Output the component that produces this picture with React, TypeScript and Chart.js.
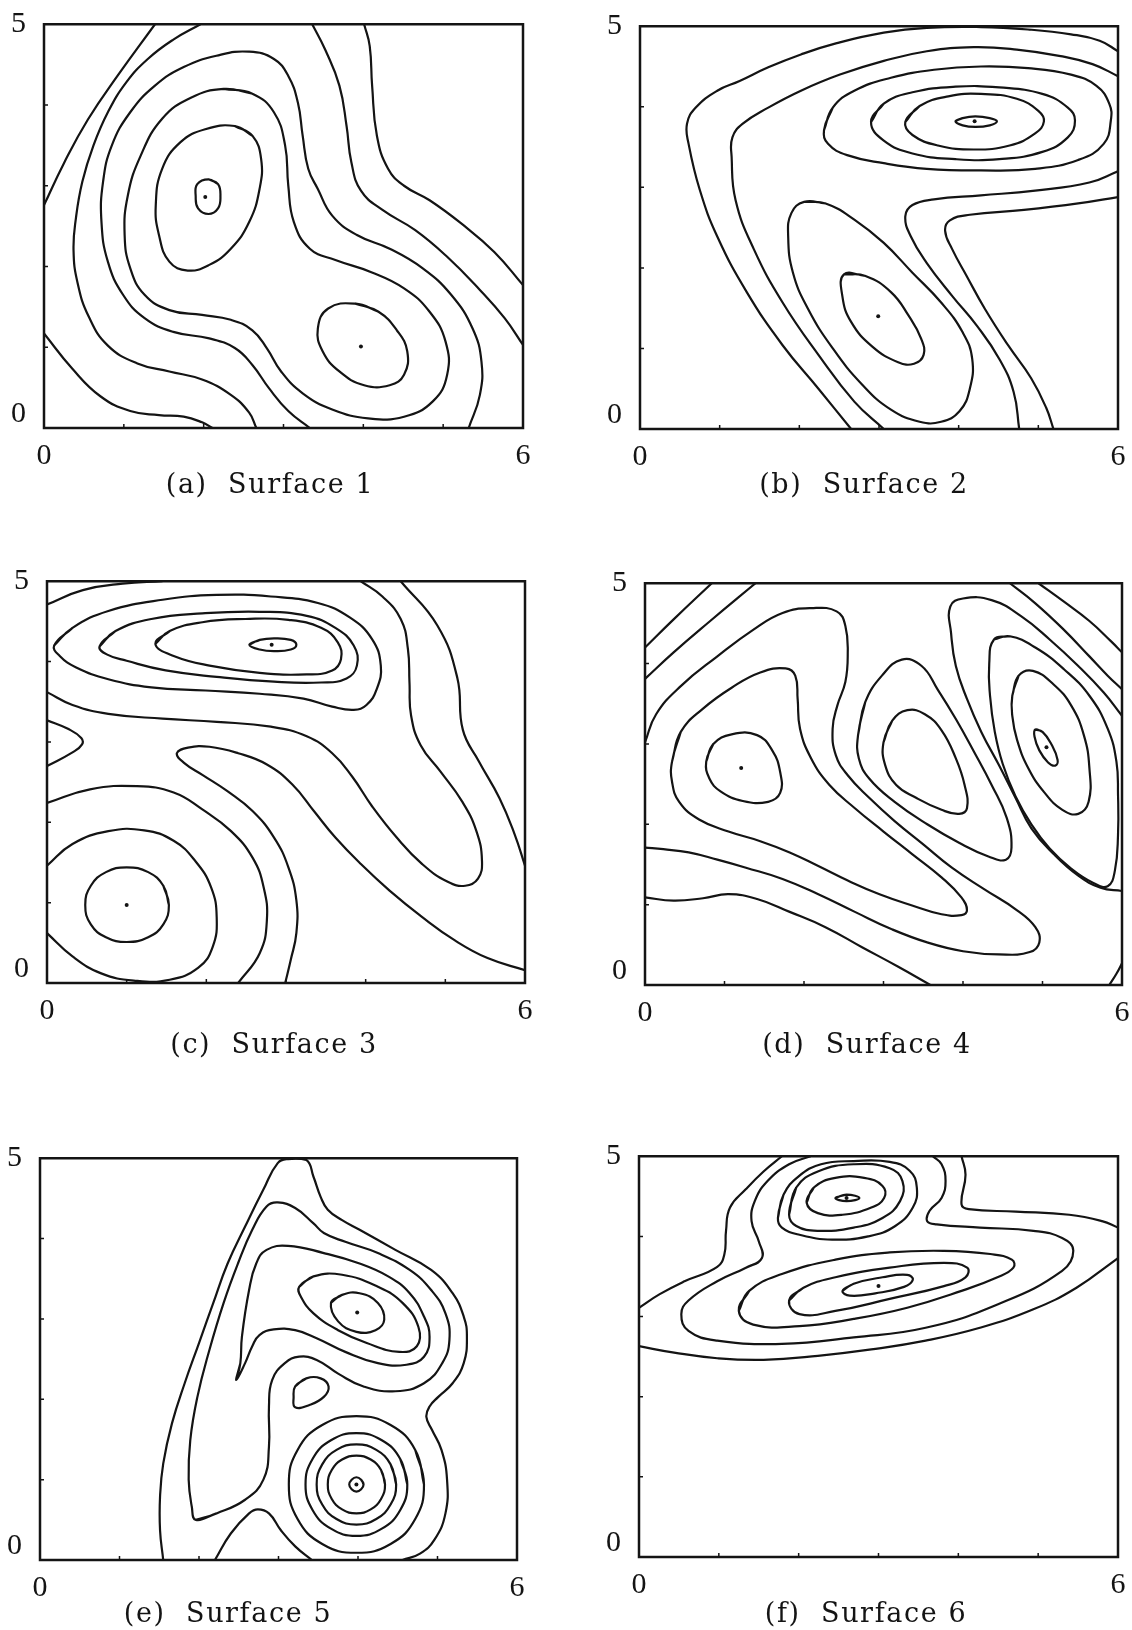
import { useEffect, useRef } from 'react';
import { Chart, registerables } from 'chart.js';

Chart.register(...registerables);

type Pt = [number, number];

const INK = '#141414';

// Axis ranges and tick values shared by all six surfaces
const xRange: Pt = [0, 6];
const yRange: Pt = [0, 5];
const xTickValues = [0, 1, 2, 3, 4, 5, 6];
const yTickValues = [0, 1, 2, 3, 4, 5];
const xLabelled = [0, 6];
const yLabelled = [0, 5];

// ---- Surface 1 ----
const surface1Open: Pt[][] = [
  [[0, 2.76], [0.25, 3.28], [0.55, 3.82], [0.92, 4.36], [1.39, 5.0]],
  [[0, 1.17], [0.35, 0.74], [0.71, 0.39], [1.08, 0.21], [1.44, 0.16], [1.75, 0.14], [1.98, 0.07], [2.11, 0]],
  [[4.01, 5.0], [4.08, 4.73], [4.11, 4.24], [4.17, 3.62], [4.31, 3.21], [4.51, 3.0], [4.83, 2.82], [5.23, 2.53], [5.64, 2.18], [6, 1.77]],
  [[1.96, 5], [1.62, 4.81], [1.3, 4.57], [1.03, 4.28], [0.8, 3.91], [0.62, 3.5], [0.48, 3.05], [0.4, 2.6], [0.37, 2.2], [0.42, 1.8], [0.56, 1.38], [0.8, 1.02], [1.17, 0.8], [1.57, 0.7], [1.98, 0.6], [2.34, 0.41], [2.57, 0.19], [2.66, 0]],
  [[3.36, 5], [3.52, 4.69], [3.7, 4.24], [3.79, 3.74], [3.85, 3.29], [3.97, 2.94], [4.24, 2.7], [4.65, 2.45], [5.05, 2.12], [5.46, 1.71], [5.77, 1.36], [6, 1.03]],
  [[3.33, 0], [3.06, 0.21], [2.82, 0.49], [2.61, 0.78], [2.39, 0.99], [2.07, 1.11], [1.62, 1.19], [1.26, 1.36], [0.99, 1.65], [0.8, 2.06], [0.72, 2.55], [0.74, 3.05], [0.85, 3.5], [1.08, 3.91], [1.39, 4.24], [1.75, 4.47], [2.16, 4.61], [2.57, 4.66], [2.88, 4.57], [3.06, 4.36], [3.18, 4.03], [3.24, 3.62], [3.31, 3.21], [3.43, 2.96], [3.61, 2.63], [3.92, 2.39], [4.33, 2.22], [4.74, 1.98], [5.1, 1.65], [5.37, 1.23], [5.48, 0.82], [5.46, 0.41], [5.32, 0]],
];
const surface1Closed: Pt[][] = [
  [[2.25, 4.2], [2.61, 4.14], [2.88, 3.91], [3.02, 3.5], [3.06, 3.0], [3.13, 2.55], [3.33, 2.22], [3.65, 2.08], [4.1, 1.93], [4.51, 1.73], [4.83, 1.44], [5.03, 1.07], [5.05, 0.66], [4.87, 0.33], [4.51, 0.14], [4.06, 0.12], [3.61, 0.23], [3.24, 0.43], [2.97, 0.7], [2.79, 0.99], [2.61, 1.21], [2.34, 1.34], [1.98, 1.4], [1.57, 1.46], [1.26, 1.65], [1.08, 1.98], [1.01, 2.39], [1.05, 2.88], [1.21, 3.37], [1.48, 3.83], [1.84, 4.09]],
  [[2.39, 3.74], [2.61, 3.62], [2.72, 3.33], [2.7, 2.96], [2.57, 2.55], [2.34, 2.22], [2.07, 2.02], [1.8, 1.95], [1.57, 2.06], [1.44, 2.39], [1.4, 2.76], [1.48, 3.21], [1.71, 3.54], [2.02, 3.7]],
  [[2.06, 3.08], [2.18, 3.02], [2.21, 2.87], [2.18, 2.72], [2.06, 2.65], [1.93, 2.72], [1.9, 2.87], [1.92, 3.02]],
  [[3.9, 1.54], [4.19, 1.44], [4.42, 1.21], [4.55, 0.95], [4.51, 0.66], [4.33, 0.53], [4.01, 0.53], [3.7, 0.7], [3.49, 0.95], [3.43, 1.23], [3.56, 1.48]],
];
const surface1Peaks: Pt[] = [[2.02, 2.86], [3.97, 1.01]];

// ---- Surface 2 ----
const surface2Open: Pt[][] = [
  [[2.65, 0], [2.24, 0.5], [1.79, 1.04], [1.34, 1.7], [0.97, 2.39], [0.75, 2.97], [0.61, 3.54], [0.59, 3.79], [0.7, 3.99], [0.97, 4.2], [1.25, 4.32], [1.61, 4.49], [2.02, 4.65], [2.47, 4.79], [3.06, 4.92], [3.6, 4.98], [4.28, 4.99], [4.87, 4.96], [5.41, 4.9], [5.77, 4.82], [6, 4.69]],
  [[3.06, 0], [2.69, 0.34], [2.24, 0.92], [1.79, 1.57], [1.43, 2.23], [1.2, 2.84], [1.15, 3.38], [1.16, 3.62], [1.29, 3.79], [1.61, 3.99], [2.02, 4.2], [2.51, 4.4], [3.06, 4.57], [3.6, 4.69], [4.19, 4.74], [4.73, 4.71], [5.28, 4.63], [5.68, 4.53], [6, 4.38]],
  [[6, 3.2], [5.64, 3.06], [4.96, 2.96], [4.28, 2.9], [3.69, 2.85], [3.42, 2.78], [3.33, 2.64], [3.4, 2.39], [3.6, 2.06], [3.92, 1.65], [4.23, 1.28], [4.51, 0.87], [4.69, 0.46], [4.76, 0]],
  [[6, 2.88], [5.5, 2.8], [4.82, 2.72], [4.14, 2.66], [3.89, 2.59], [3.83, 2.46], [3.92, 2.23], [4.1, 1.9], [4.33, 1.49], [4.62, 1.04], [4.91, 0.63], [5.1, 0.26], [5.19, 0]],
];
const surface2Closed: Pt[][] = [
  [[2.31, 3.71], [2.42, 3.99], [2.69, 4.2], [3.15, 4.36], [3.69, 4.46], [4.28, 4.5], [4.87, 4.48], [5.41, 4.4], [5.73, 4.26], [5.89, 4.04], [5.91, 3.83], [5.82, 3.54], [5.5, 3.34], [4.96, 3.23], [4.28, 3.21], [3.6, 3.23], [3.06, 3.3], [2.6, 3.4], [2.36, 3.54]],
  [[2.9, 3.81], [3.06, 4.04], [3.42, 4.18], [3.96, 4.25], [4.51, 4.24], [5.05, 4.16], [5.37, 3.99], [5.46, 3.83], [5.37, 3.62], [5.05, 3.44], [4.51, 3.35], [3.96, 3.35], [3.42, 3.42], [3.06, 3.58]],
  [[3.33, 3.81], [3.51, 4.01], [3.87, 4.13], [4.28, 4.16], [4.73, 4.1], [5.0, 3.95], [5.07, 3.82], [4.96, 3.67], [4.64, 3.52], [4.19, 3.47], [3.74, 3.52], [3.42, 3.65]],
  [[3.96, 3.82], [4.05, 3.86], [4.21, 3.88], [4.39, 3.86], [4.48, 3.82], [4.39, 3.77], [4.21, 3.75], [4.05, 3.77]],
  [[2.06, 2.82], [2.33, 2.8], [2.69, 2.6], [3.06, 2.31], [3.42, 1.94], [3.78, 1.57], [4.05, 1.2], [4.17, 0.87], [4.14, 0.5], [4.01, 0.22], [3.78, 0.09], [3.51, 0.09], [3.15, 0.24], [2.79, 0.55], [2.42, 1.0], [2.11, 1.49], [1.92, 1.94], [1.86, 2.39], [1.9, 2.68]],
  [[2.56, 1.92], [2.83, 1.9], [3.15, 1.7], [3.37, 1.41], [3.53, 1.12], [3.56, 0.92], [3.44, 0.81], [3.24, 0.83], [2.92, 1.02], [2.65, 1.33], [2.54, 1.65]],
];
const surface2Peaks: Pt[] = [[2.99, 1.4], [4.2, 3.82]];

// ---- Surface 3 ----
const surface3Open: Pt[][] = [
  [[0, 4.71], [0.45, 4.89], [0.95, 4.97], [1.45, 5.0]],
  [[0, 3.62], [0.32, 3.46], [0.77, 3.35], [1.45, 3.29], [2.13, 3.25], [2.81, 3.19], [3.26, 3.07], [3.58, 2.86], [3.83, 2.57], [4.08, 2.2], [4.39, 1.81], [4.71, 1.48], [5.03, 1.26], [5.25, 1.21], [5.41, 1.3], [5.46, 1.52], [5.39, 1.89], [5.21, 2.26], [4.94, 2.63], [4.69, 2.96], [4.57, 3.33], [4.55, 3.74], [4.53, 4.16], [4.44, 4.53], [4.21, 4.81], [3.94, 5.0]],
  [[4.44, 5.0], [4.9, 4.45], [5.15, 3.8], [5.22, 3.15], [5.42, 2.76], [5.68, 2.3], [5.87, 1.85], [6, 1.46]],
  [[0, 3.27], [0.27, 3.16], [0.43, 3.05], [0.44, 2.97], [0.32, 2.87], [0, 2.7]],
  [[6, 0.16], [5.53, 0.31], [5.12, 0.53], [4.71, 0.82], [4.3, 1.15], [3.94, 1.48], [3.62, 1.81], [3.35, 2.14], [3.08, 2.47], [2.76, 2.72], [2.4, 2.86], [2.04, 2.94], [1.77, 2.93], [1.63, 2.86], [1.72, 2.74], [1.95, 2.59], [2.26, 2.39], [2.58, 2.14], [2.85, 1.81], [3.03, 1.44], [3.13, 1.03], [3.13, 0.62], [3.06, 0.29], [2.99, 0]],
  [[0, 2.24], [0.54, 2.41], [1.13, 2.45], [1.59, 2.37], [1.95, 2.16], [2.31, 1.89], [2.58, 1.56], [2.72, 1.19], [2.76, 0.78], [2.67, 0.37], [2.4, 0]],
  [[0, 1.46], [0.32, 1.73], [0.77, 1.89], [1.22, 1.9], [1.59, 1.77], [1.86, 1.52], [2.06, 1.19], [2.13, 0.82], [2.08, 0.45], [1.9, 0.19], [1.54, 0.04], [1.09, 0.03], [0.68, 0.12], [0.32, 0.33], [0, 0.62]],
];
const surface3Closed: Pt[][] = [
  [[0.09, 4.2], [0.32, 4.42], [0.77, 4.63], [1.45, 4.77], [2.13, 4.83], [2.81, 4.81], [3.4, 4.73], [3.8, 4.55], [4.08, 4.28], [4.19, 3.95], [4.14, 3.66], [4.01, 3.46], [3.85, 3.4], [3.58, 3.44], [3.22, 3.54], [2.67, 3.6], [1.99, 3.64], [1.31, 3.68], [0.77, 3.78], [0.36, 3.93], [0.16, 4.07]],
  [[0.66, 4.19], [0.86, 4.38], [1.31, 4.53], [1.95, 4.6], [2.67, 4.62], [3.26, 4.57], [3.62, 4.42], [3.85, 4.2], [3.89, 3.95], [3.76, 3.79], [3.44, 3.74], [2.85, 3.75], [2.13, 3.81], [1.49, 3.89], [1.0, 4.01], [0.75, 4.09]],
  [[1.36, 4.22], [1.54, 4.38], [1.95, 4.49], [2.49, 4.53], [3.03, 4.52], [3.44, 4.42], [3.65, 4.24], [3.69, 4.03], [3.58, 3.89], [3.26, 3.84], [2.67, 3.86], [2.04, 3.95], [1.59, 4.07]],
  [[2.54, 4.21], [2.67, 4.27], [2.85, 4.29], [3.06, 4.27], [3.13, 4.21], [3.06, 4.15], [2.85, 4.13], [2.67, 4.15]],
  [[1.53, 0.97], [1.46, 1.21], [1.27, 1.38], [1.0, 1.44], [0.74, 1.38], [0.55, 1.21], [0.48, 0.97], [0.55, 0.73], [0.74, 0.57], [1.0, 0.51], [1.27, 0.57], [1.46, 0.73]],
];
const surface3Peaks: Pt[] = [[2.82, 4.21], [1.0, 0.97]];

// ---- Surface 4 ----
const surface4Open: Pt[][] = [
  [[0, 4.2], [0.36, 4.55], [0.84, 5.0]],
  [[0, 3.81], [0.36, 4.14], [0.82, 4.53], [1.39, 5.0]],
  [[0, 3.02], [0.14, 3.37], [0.45, 3.72], [0.91, 4.09], [1.36, 4.42], [1.73, 4.63], [2.09, 4.69], [2.41, 4.65], [2.52, 4.47], [2.55, 4.09], [2.52, 3.77], [2.42, 3.48], [2.36, 3.19], [2.4, 2.86], [2.55, 2.61], [2.82, 2.33], [3.14, 2.04], [3.5, 1.75], [3.86, 1.46], [4.27, 1.19], [4.68, 0.93], [4.91, 0.72], [4.96, 0.53], [4.84, 0.41], [4.45, 0.38], [4.0, 0.42], [3.55, 0.53], [3.09, 0.7], [2.64, 0.91], [2.18, 1.13], [1.73, 1.32], [1.27, 1.46], [0.91, 1.56], [0.55, 1.65], [0.23, 1.69], [0, 1.71]],
  [[0, 1.09], [0.36, 1.05], [0.73, 1.08], [1.05, 1.13], [1.41, 1.07], [1.82, 0.91], [2.27, 0.72], [2.73, 0.47], [3.18, 0.23], [3.59, 0]],
  [[5.84, 0], [5.93, 0.14], [6, 0.27]],
  [[4.59, 5.0], [4.91, 4.75], [5.27, 4.42], [5.59, 4.09], [5.82, 3.85], [6, 3.68]],
  [[4.95, 5.0], [5.27, 4.77], [5.59, 4.53], [5.86, 4.28], [6, 4.14]],
  [[6, 3.35], [5.77, 3.64], [5.45, 3.97], [5.09, 4.3], [4.73, 4.59], [4.36, 4.79], [4.0, 4.81], [3.84, 4.71], [3.85, 4.38], [3.91, 3.97], [4.05, 3.56], [4.23, 3.15], [4.45, 2.74], [4.66, 2.33], [4.86, 1.95], [5.14, 1.63], [5.45, 1.36], [5.73, 1.21], [6, 1.17]],
];
const surface4Closed: Pt[][] = [
  [[0.77, 2.78], [0.86, 3.0], [1.09, 3.12], [1.41, 3.11], [1.6, 2.92], [1.7, 2.65], [1.7, 2.39], [1.55, 2.28], [1.23, 2.29], [0.95, 2.41], [0.81, 2.57]],
  [[0.34, 2.78], [0.45, 3.15], [0.73, 3.44], [1.09, 3.7], [1.45, 3.89], [1.77, 3.94], [1.89, 3.85], [1.92, 3.56], [1.95, 3.19], [2.09, 2.82], [2.32, 2.49], [2.64, 2.2], [3.0, 1.91], [3.36, 1.63], [3.73, 1.34], [3.98, 1.09], [4.05, 0.93], [3.98, 0.87], [3.73, 0.88], [3.36, 0.99], [2.95, 1.13], [2.55, 1.3], [2.18, 1.48], [1.82, 1.65], [1.45, 1.79], [1.05, 1.91], [0.68, 2.06], [0.43, 2.28], [0.34, 2.53]],
  [[3.0, 3.02], [3.11, 3.29], [3.3, 3.42], [3.52, 3.37], [3.73, 3.17], [3.91, 2.82], [4.02, 2.49], [4.05, 2.2], [3.95, 2.13], [3.73, 2.18], [3.41, 2.33], [3.16, 2.49], [3.02, 2.74]],
  [[2.68, 3.11], [2.77, 3.52], [2.98, 3.85], [3.23, 4.05], [3.48, 3.97], [3.68, 3.68], [3.91, 3.31], [4.14, 2.9], [4.36, 2.49], [4.55, 2.08], [4.61, 1.71], [4.54, 1.56], [4.32, 1.6], [3.95, 1.77], [3.55, 2.0], [3.14, 2.28], [2.82, 2.57], [2.69, 2.82]],
  [[4.91, 3.18], [5.0, 3.15], [5.11, 3.0], [5.19, 2.8], [5.16, 2.73], [5.07, 2.77], [4.96, 2.92], [4.9, 3.09]],
  [[4.62, 3.6], [4.7, 3.85], [4.88, 3.91], [5.14, 3.74], [5.36, 3.48], [5.52, 3.11], [5.59, 2.7], [5.58, 2.28], [5.45, 2.13], [5.25, 2.18], [5.02, 2.4], [4.82, 2.7], [4.68, 3.05], [4.62, 3.35]],
  [[4.39, 4.3], [4.59, 4.34], [4.91, 4.2], [5.27, 3.93], [5.59, 3.6], [5.82, 3.19], [5.93, 2.78], [5.95, 2.37], [5.95, 1.87], [5.91, 1.42], [5.82, 1.23], [5.64, 1.27], [5.36, 1.45], [5.09, 1.7], [4.86, 2.0], [4.66, 2.35], [4.5, 2.75], [4.4, 3.15], [4.34, 3.6], [4.33, 4.0]],
];
const surface4Peaks: Pt[] = [[1.21, 2.7], [5.05, 2.96]];

// ---- Surface 5 ----
const surface5Open: Pt[][] = [
  [[1.55, 0], [1.51, 0.37], [1.51, 0.79], [1.55, 1.2], [1.66, 1.7], [1.82, 2.2], [2.0, 2.7], [2.18, 3.2], [2.36, 3.69], [2.58, 4.15], [2.81, 4.61], [2.99, 4.94], [3.12, 4.99], [3.35, 4.98], [3.44, 4.77], [3.53, 4.52], [3.62, 4.36], [3.8, 4.23], [4.02, 4.11], [4.47, 3.86], [4.92, 3.61], [5.19, 3.32], [5.33, 3.03], [5.37, 2.78], [5.33, 2.45], [5.19, 2.2], [5.01, 2.03], [4.9, 1.91], [4.86, 1.78], [4.93, 1.62], [5.05, 1.37], [5.12, 1.0], [5.1, 0.58], [4.96, 0.25], [4.78, 0.08], [4.56, 0]],
  [[2.2, 0], [2.4, 0.33], [2.63, 0.58], [2.74, 0.63], [2.88, 0.58], [3.03, 0.37], [3.21, 0.17], [3.42, 0]],
];
const surface5Closed: Pt[][] = [
  [[1.96, 0.5], [2.22, 0.58], [2.58, 0.75], [2.81, 1.0], [2.88, 1.41], [2.88, 1.91], [2.92, 2.24], [3.08, 2.45], [3.26, 2.53], [3.48, 2.49], [3.75, 2.32], [4.07, 2.16], [4.47, 2.1], [4.83, 2.2], [5.06, 2.45], [5.15, 2.74], [5.1, 3.07], [4.92, 3.36], [4.65, 3.61], [4.25, 3.82], [3.84, 3.96], [3.57, 4.07], [3.44, 4.19], [3.21, 4.38], [2.99, 4.45], [2.85, 4.4], [2.67, 4.11], [2.49, 3.69], [2.31, 3.2], [2.13, 2.61], [1.98, 2.03], [1.89, 1.49], [1.87, 1.0], [1.91, 0.66]],
  [[2.47, 2.24], [2.52, 2.45], [2.54, 2.78], [2.63, 3.36], [2.72, 3.69], [2.85, 3.86], [3.12, 3.91], [3.57, 3.82], [4.02, 3.69], [4.38, 3.53], [4.65, 3.32], [4.83, 3.03], [4.9, 2.78], [4.83, 2.53], [4.61, 2.43], [4.25, 2.45], [3.84, 2.59], [3.48, 2.76], [3.21, 2.86], [2.94, 2.87], [2.76, 2.8], [2.67, 2.66], [2.58, 2.45]],
  [[3.26, 3.4], [3.44, 3.53], [3.8, 3.55], [4.25, 3.4], [4.56, 3.2], [4.76, 2.9], [4.74, 2.66], [4.52, 2.59], [4.11, 2.7], [3.75, 2.86], [3.44, 3.07], [3.28, 3.28]],
  [[3.66, 3.2], [3.8, 3.3], [4.02, 3.32], [4.25, 3.2], [4.33, 2.99], [4.22, 2.86], [3.98, 2.84], [3.75, 2.97]],
  [[3.21, 2.16], [3.35, 2.26], [3.53, 2.26], [3.63, 2.16], [3.57, 2.03], [3.39, 1.93], [3.21, 1.9], [3.19, 2.03]],
  [[4.07, 0.94], [4.04, 1.0], [3.98, 1.03], [3.92, 1.0], [3.89, 0.94], [3.92, 0.88], [3.98, 0.85], [4.04, 0.88]],
  [[4.34, 0.94], [4.29, 1.12], [4.16, 1.25], [3.98, 1.3], [3.8, 1.25], [3.67, 1.12], [3.62, 0.94], [3.67, 0.76], [3.8, 0.63], [3.98, 0.58], [4.16, 0.63], [4.29, 0.76]],
  [[4.48, 0.94], [4.41, 1.19], [4.23, 1.37], [3.98, 1.44], [3.73, 1.37], [3.55, 1.19], [3.48, 0.94], [3.55, 0.69], [3.73, 0.51], [3.98, 0.44], [4.23, 0.51], [4.41, 0.69]],
  [[4.62, 0.94], [4.53, 1.26], [4.3, 1.49], [3.98, 1.58], [3.66, 1.49], [3.43, 1.26], [3.34, 0.94], [3.43, 0.62], [3.66, 0.39], [3.98, 0.3], [4.3, 0.39], [4.53, 0.62]],
  [[4.83, 0.94], [4.72, 1.37], [4.41, 1.68], [3.98, 1.79], [3.55, 1.68], [3.24, 1.37], [3.13, 0.94], [3.24, 0.51], [3.55, 0.2], [3.98, 0.09], [4.41, 0.2], [4.72, 0.51]],
];
const surface5Peaks: Pt[] = [[3.99, 3.08], [3.98, 0.94]];

// ---- Surface 6 ----
const surface6Open: Pt[][] = [
  [[0, 2.63], [0.44, 2.55], [0.98, 2.48], [1.56, 2.46], [2.24, 2.51], [2.91, 2.59], [3.59, 2.7], [4.27, 2.86], [4.94, 3.09], [5.48, 3.36], [6, 3.73]],
  [[0, 3.11], [0.26, 3.28], [0.57, 3.44], [0.98, 3.62], [1.07, 3.78], [1.09, 4.07], [1.14, 4.36], [1.34, 4.59], [1.56, 4.81], [1.79, 5.0]],
  [[4.04, 5.0], [4.09, 4.77], [4.04, 4.4], [4.13, 4.34], [4.72, 4.31], [5.39, 4.27], [5.8, 4.19], [6, 4.11]],
  [[2.15, 5.0], [1.88, 4.9], [1.61, 4.69], [1.45, 4.44], [1.41, 4.19], [1.5, 3.94], [1.54, 3.73], [1.34, 3.61], [0.98, 3.44], [0.62, 3.2], [0.53, 3.03], [0.62, 2.82], [0.98, 2.7], [1.79, 2.66], [2.69, 2.74], [3.59, 2.86], [4.49, 3.15], [5.3, 3.57], [5.44, 3.82], [5.3, 3.98], [4.94, 4.07], [4.27, 4.11], [3.73, 4.15], [3.61, 4.19], [3.64, 4.32], [3.79, 4.48], [3.84, 4.69], [3.79, 4.9], [3.68, 5.0]],
];
const surface6Closed: Pt[][] = [
  [[1.25, 3.07], [1.38, 3.32], [1.79, 3.53], [2.46, 3.71], [3.14, 3.8], [3.82, 3.82], [4.4, 3.78], [4.67, 3.71], [4.69, 3.61], [4.49, 3.49], [4.04, 3.32], [3.36, 3.11], [2.69, 2.97], [2.01, 2.88], [1.43, 2.9]],
  [[1.88, 3.2], [2.06, 3.36], [2.46, 3.49], [3.14, 3.61], [3.82, 3.67], [4.11, 3.61], [4.09, 3.49], [3.82, 3.38], [3.14, 3.22], [2.46, 3.07], [2.01, 3.03]],
  [[2.55, 3.32], [2.69, 3.41], [3.05, 3.49], [3.36, 3.52], [3.43, 3.46], [3.32, 3.37], [2.96, 3.29], [2.64, 3.26]],
  [[2.46, 4.48], [2.6, 4.52], [2.76, 4.48], [2.6, 4.44]],
  [[2.1, 4.42], [2.19, 4.61], [2.46, 4.73], [2.82, 4.73], [3.05, 4.63], [3.07, 4.48], [2.91, 4.36], [2.55, 4.27], [2.24, 4.29]],
  [[1.88, 4.27], [1.97, 4.61], [2.24, 4.81], [2.69, 4.9], [3.14, 4.85], [3.3, 4.69], [3.27, 4.44], [3.05, 4.23], [2.69, 4.11], [2.24, 4.07], [1.97, 4.13]],
  [[1.74, 4.23], [1.81, 4.52], [2.0, 4.75], [2.28, 4.9], [2.69, 4.94], [3.14, 4.93], [3.39, 4.82], [3.48, 4.61], [3.43, 4.36], [3.21, 4.13], [2.87, 4.0], [2.42, 3.96], [2.01, 4.02], [1.79, 4.11]],
];
const surface6Peaks: Pt[] = [[2.6, 4.48], [3.0, 3.38]];

// Panel geometry on the page: plot-area box (left, top, right, bottom) and caption centre
type PanelSpec = {
  open: Pt[][];
  closed: Pt[][];
  peaks: Pt[];
  box: [number, number, number, number];
  caption: string;
  captionAt: [number, number];
};

const panels: PanelSpec[] = [
  { open: surface1Open, closed: surface1Closed, peaks: surface1Peaks, box: [44, 22, 523, 428], caption: '(a)  Surface 1', captionAt: [270, 484] },
  { open: surface2Open, closed: surface2Closed, peaks: surface2Peaks, box: [640, 24, 1118, 429], caption: '(b)  Surface 2', captionAt: [864, 484] },
  { open: surface3Open, closed: surface3Closed, peaks: surface3Peaks, box: [47, 579, 525, 983], caption: '(c)  Surface 3', captionAt: [274, 1044] },
  { open: surface4Open, closed: surface4Closed, peaks: surface4Peaks, box: [645, 581, 1122, 985], caption: '(d)  Surface 4', captionAt: [867, 1044] },
  { open: surface5Open, closed: surface5Closed, peaks: surface5Peaks, box: [40, 1156, 517, 1560], caption: '(e)  Surface 5', captionAt: [228, 1613] },
  { open: surface6Open, closed: surface6Closed, peaks: surface6Peaks, box: [639, 1154, 1118, 1557], caption: '(f)  Surface 6', captionAt: [866, 1613] },
];

const AXIS_W = 60;
const AXIS_H = 60;
const PAD_T = 30;
const PAD_R = 30;

// Frame round the plot area plus short inward tick marks
const framePlugin = {
  id: 'panelFrame',
  afterDatasetsDraw(chart: any) {
    const { ctx, chartArea: a, scales } = chart;
    ctx.save();
    ctx.strokeStyle = INK;
    ctx.lineWidth = 2.5;
    ctx.strokeRect(a.left, a.top, a.right - a.left, a.bottom - a.top);
    ctx.lineWidth = 1.5;
    ctx.beginPath();
    for (const v of xTickValues.slice(1, -1)) {
      const px = scales.x.getPixelForValue(v);
      ctx.moveTo(px, a.bottom);
      ctx.lineTo(px, a.bottom - 4);
    }
    for (const v of yTickValues.slice(1, -1)) {
      const py = scales.y.getPixelForValue(v);
      ctx.moveTo(a.left, py);
      ctx.lineTo(a.left + 4, py);
    }
    ctx.stroke();
    ctx.restore();
  },
};

function ContourPanel({ spec }: { spec: PanelSpec }) {
  const ref = useRef<HTMLCanvasElement | null>(null);
  const [L, T, R, B] = spec.box;
  const width = R - L + AXIS_W + PAD_R;
  const height = B - T + AXIS_H + PAD_T;

  useEffect(() => {
    if (!ref.current) return;
    const lineStyle = {
      showLine: true,
      borderColor: INK,
      borderWidth: 2.2,
      pointRadius: 0,
      tension: 0.45,
      fill: false,
    };
    const datasets: any[] = [];
    for (const line of spec.open) {
      datasets.push({ ...lineStyle, data: line.map(([x, y]) => ({ x, y })) });
    }
    for (const loop of spec.closed) {
      const ring = [...loop, loop[0], loop[1]];
      datasets.push({ ...lineStyle, data: ring.map(([x, y]) => ({ x, y })) });
    }
    datasets.push({
      showLine: false,
      data: spec.peaks.map(([x, y]) => ({ x, y })),
      pointRadius: 2,
      pointBackgroundColor: INK,
      pointBorderWidth: 0,
    });

    const tickFamily = "'Liberation Serif', 'Times New Roman', serif";
    const chart = new Chart(ref.current, {
      type: 'scatter',
      data: { datasets },
      plugins: [framePlugin],
      options: {
        animation: false,
        responsive: false,
        events: [],
        layout: { padding: { left: 0, top: PAD_T, right: PAD_R, bottom: 0 } },
        plugins: { legend: { display: false }, tooltip: { enabled: false } },
        scales: {
          x: {
            type: 'linear',
            min: xRange[0],
            max: xRange[1],
            afterFit: (s: any) => {
              s.height = AXIS_H;
            },
            afterBuildTicks: (s: any) => {
              s.ticks = xTickValues.map((v) => ({ value: v }));
            },
            grid: { display: false, drawTicks: false },
            border: { display: false },
            ticks: {
              autoSkip: false,
              maxRotation: 0,
              padding: 10,
              color: INK,
              font: { family: tickFamily, size: 30, lineHeight: 1.2 },
              callback: (v: any) => (xLabelled.includes(Number(v)) ? String(v) : ''),
            },
          },
          y: {
            type: 'linear',
            min: yRange[0],
            max: yRange[1],
            afterFit: (s: any) => {
              s.width = AXIS_W;
            },
            afterBuildTicks: (s: any) => {
              s.ticks = yTickValues.map((v) => ({ value: v }));
            },
            grid: { display: false, drawTicks: false },
            border: { display: false },
            ticks: {
              autoSkip: false,
              padding: 18,
              color: INK,
              font: { family: tickFamily, size: 30, lineHeight: 0.95 },
              callback: (v: any) => {
                const n = Number(v);
                if (!yLabelled.includes(n)) return '';
                return n === yRange[0] ? [String(n), ''] : String(n);
              },
            },
          },
        },
      } as any,
    });
    return () => chart.destroy();
  }, [spec]);

  return (
    <canvas
      ref={ref}
      width={width}
      height={height}
      style={{ position: 'absolute', left: L - AXIS_W, top: T - PAD_T, width, height }}
    />
  );
}

export default function App() {
  return (
    <div
      style={{
        position: 'absolute',
        left: 0,
        top: 0,
        width: 1132,
        height: 1630,
        overflow: 'hidden',
        background: '#fff',
      }}
    >
      {panels.map((p, i) => (
        <ContourPanel key={i} spec={p} />
      ))}
      {panels.map((p, i) => (
        <div
          key={'cap' + i}
          style={{
            position: 'absolute',
            left: p.captionAt[0],
            top: p.captionAt[1] - 17,
            transform: 'translateX(-50%)',
            fontFamily: "'DejaVu Serif', serif",
            fontSize: 27,
            letterSpacing: 1.6,
            lineHeight: '34px',
            whiteSpace: 'pre',
            color: INK,
          }}
        >
          {p.caption}
        </div>
      ))}
    </div>
  );
}
